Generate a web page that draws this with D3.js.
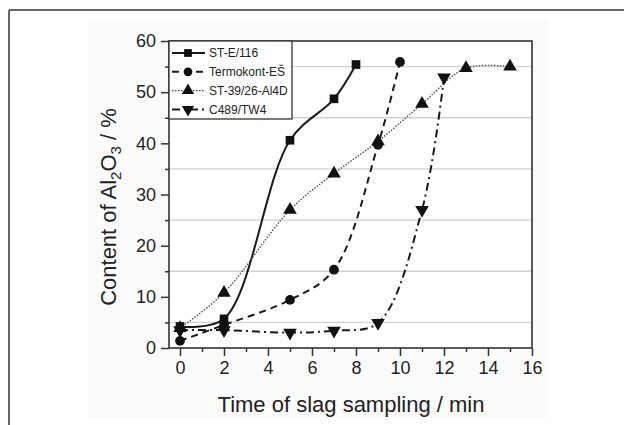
<!DOCTYPE html>
<html>
<head>
<meta charset="utf-8">
<script src="https://cdn.jsdelivr.net/npm/d3@7"></script>
<style>
  body { margin: 0; background: #fff; }
  svg { display: block; font-family: "Liberation Sans", Arial, sans-serif; }
</style>
</head>
<body>
<div id="chart"></div>
<script>
// data (time in min, Al2O3 content in %)
const seriesNames = ["ST-E/116", "Termokont-EŠ", "ST-39/26-Al4D", "C489/TW4"];
const steTime = [0, 2, 5, 7, 8];
const steVal = [4.2, 5.7, 40.6, 48.7, 55.4];
const termoTime = [0, 2, 5, 7, 9, 10];
const termoVal = [1.4, 4.5, 9.4, 15.3, 39.7, 55.9];
const st39Time = [0, 2, 5, 7, 9, 11, 13, 15];
const st39Val = [3.9, 10.8, 27.0, 34.1, 40.4, 47.7, 54.7, 55.0];
const c489Time = [0, 2, 5, 7, 9, 11, 12];
const c489Val = [3.5, 3.5, 3.0, 3.4, 4.9, 27.0, 52.9];
const xTicks = [0, 2, 4, 6, 8, 10, 12, 14, 16];
const yTicks = [0, 10, 20, 30, 40, 50, 60];
const gridVals = [5, 15, 25, 35, 45, 55];

const W = 624, H = 425;
const plotL = 169, plotR = 532, plotT = 41, plotB = 348;

const svg = d3.select("#chart").append("svg")
  .attr("width", W).attr("height", H);

// faint figure background + outer frame lines
svg.append("rect").attr("x", 88).attr("y", 20).attr("width", 460).attr("height", 398)
  .attr("fill", "#fbfbfb");
svg.append("line").attr("x1", 9).attr("x2", W).attr("y1", 10).attr("y2", 10)
  .attr("stroke", "#333").attr("stroke-width", 1.5);
svg.append("line").attr("x1", 9).attr("x2", 9).attr("y1", 10).attr("y2", H)
  .attr("stroke", "#333").attr("stroke-width", 1.5);

const x = d3.scaleLinear().domain([-0.5, 16]).range([plotL, plotR]);
const y = d3.scaleLinear().domain([0, 60]).range([plotB, plotT]);

svg.append("rect").attr("x", plotL).attr("y", plotT)
  .attr("width", plotR - plotL).attr("height", plotB - plotT).attr("fill", "#fff");

// grid lines at the minor ticks
svg.selectAll(".grid").data(gridVals).enter().append("line")
  .attr("x1", plotL).attr("x2", plotR)
  .attr("y1", d => y(d)).attr("y2", d => y(d))
  .attr("stroke", "#d2d2d2").attr("stroke-width", 1.3);

// axes
svg.append("g").attr("transform", `translate(0,${plotB})`)
  .call(d3.axisBottom(x).tickValues(xTicks).tickSize(8).tickPadding(5).tickFormat(d3.format("d")));
svg.append("g").attr("transform", `translate(0,${plotB})`)
  .call(d3.axisBottom(x).tickValues(d3.range(1, 16, 2)).tickSize(4).tickFormat(""));
svg.append("g").attr("transform", `translate(${plotL},0)`)
  .call(d3.axisLeft(y).tickValues(yTicks).tickSize(8).tickPadding(5));
svg.append("g").attr("transform", `translate(${plotL},0)`)
  .call(d3.axisLeft(y).tickValues(gridVals).tickSize(4).tickFormat(""));

svg.selectAll(".domain").remove();
svg.selectAll(".tick line").attr("stroke", "#333").attr("stroke-width", 1.5);
svg.selectAll(".tick text").attr("font-size", 18).attr("fill", "#222")
  .attr("font-family", "Liberation Sans, Arial, sans-serif");

// plot box
svg.append("rect").attr("x", plotL).attr("y", plotT)
  .attr("width", plotR - plotL).attr("height", plotB - plotT)
  .attr("fill", "none").attr("stroke", "#333").attr("stroke-width", 1.6);

// series
const series = [
  {name: seriesNames[0], t: steTime, v: steVal, sym: d3.symbolSquare, size: 75, rot: 0, dash: null, w: 2, col: "#1a1a1a"},
  {name: seriesNames[1], t: termoTime, v: termoVal, sym: d3.symbolCircle, size: 75, rot: 0, dash: "7,5", w: 2, col: "#1a1a1a"},
  {name: seriesNames[2], t: st39Time, v: st39Val, sym: d3.symbolTriangle, size: 80, rot: 0, dash: "1.5,1.5", w: 1.3, col: "#444"},
  {name: seriesNames[3], t: c489Time, v: c489Val, sym: d3.symbolTriangle, size: 80, rot: 180, dash: "8,4,2,4", w: 2, col: "#1a1a1a"}
];

const line = d3.line().x(d => x(d[0])).y(d => y(d[1])).curve(d3.curveCatmullRom.alpha(0.5));

series.forEach(s => {
  const pts = s.t.map((t, i) => [t, s.v[i]]);
  svg.append("path").datum(pts)
    .attr("d", line).attr("fill", "none")
    .attr("stroke", s.col).attr("stroke-width", s.w)
    .attr("stroke-dasharray", s.dash);
});
series.forEach(s => {
  const pts = s.t.map((t, i) => [t, s.v[i]]);
  svg.selectAll(null).data(pts).enter().append("path")
    .attr("d", d3.symbol().type(s.sym).size(s.size))
    .attr("transform", d => `translate(${x(d[0])},${y(d[1])}) rotate(${s.rot})`)
    .attr("fill", "#111");
});

// legend
const legend = svg.append("g");
legend.append("rect").attr("x", plotL).attr("y", plotT).attr("width", 123).attr("height", 78)
  .attr("fill", "#fff").attr("stroke", "#333").attr("stroke-width", 1.3);
series.forEach((s, i) => {
  const ly = 53 + i * 18.8;
  legend.append("line").attr("x1", 172).attr("x2", 205).attr("y1", ly).attr("y2", ly)
    .attr("stroke", s.col).attr("stroke-width", s.w).attr("stroke-dasharray", s.dash);
  legend.append("path").attr("d", d3.symbol().type(s.sym).size(s.size * 0.8))
    .attr("transform", `translate(188,${ly}) rotate(${s.rot})`).attr("fill", "#111");
  legend.append("text").attr("x", 209).attr("y", ly + 4.3)
    .attr("font-size", 12).attr("fill", "#222").text(s.name);
});

// axis titles
svg.append("text").attr("x", 351).attr("y", 412).attr("text-anchor", "middle")
  .attr("font-size", 22).attr("fill", "#222").text("Time of slag sampling / min");

const yl = svg.append("text").attr("transform", "translate(116,207) rotate(-90)")
  .attr("text-anchor", "middle").attr("font-size", 22).attr("fill", "#222");
yl.append("tspan").text("Content of Al");
yl.append("tspan").attr("dy", 5).attr("font-size", 15).text("2");
yl.append("tspan").attr("dy", -5).text("O");
yl.append("tspan").attr("dy", 5).attr("font-size", 15).text("3");
yl.append("tspan").attr("dy", -5).text(" / %");
</script>
</body>
</html>
